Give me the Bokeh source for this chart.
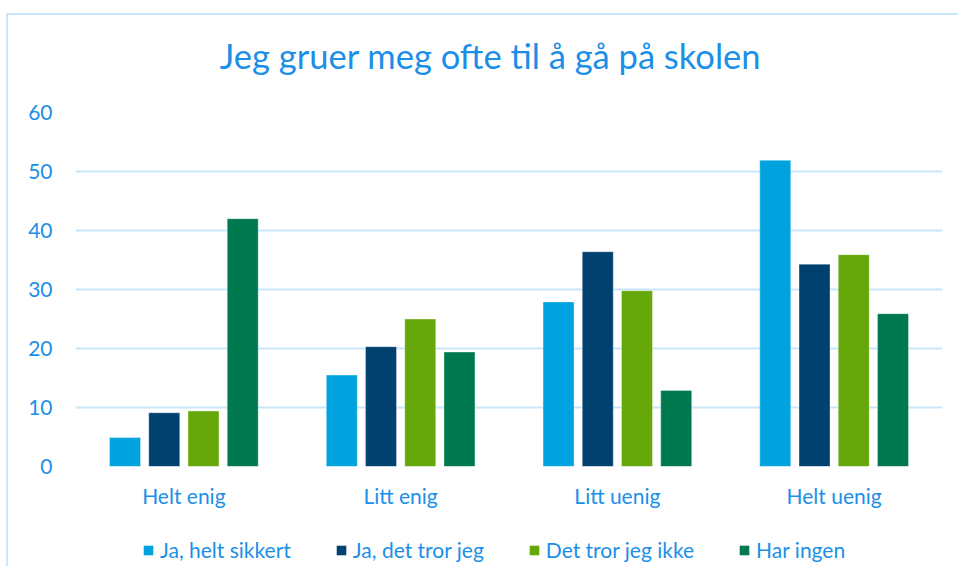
from bokeh.plotting import figure
from bokeh.models import FactorRange, FixedTicker, Legend, LegendItem, Label
from bokeh.layouts import column
from bokeh.transform import dodge
from bokeh.embed import file_html
from bokeh.resources import INLINE

categories = ["Helt enig", "Litt enig", "Litt uenig", "Helt uenig"]
series_names = ["Ja, helt sikkert", "Ja, det tror jeg", "Det tror jeg ikke", "Har ingen"]
ja_helt_sikkert = [4.9, 15.5, 27.9, 51.9]
ja_det_tror_jeg = [9.1, 20.3, 36.4, 34.3]
det_tror_jeg_ikke = [9.4, 25.0, 29.8, 35.9]
har_ingen = [42.0, 19.4, 12.9, 25.9]
y_ticks = [0, 10, 20, 30, 40, 50, 60]
title_text = "Jeg gruer meg ofte til å gå på skolen"

colors = ["#00A3E0", "#004170", "#66A80A", "#007850"]
text_color = "#1B8FE8"
font = "Lato"
keys = ["s0", "s1", "s2", "s3"]

data = dict(cat=categories, s0=ja_helt_sikkert, s1=ja_det_tror_jeg,
            s2=det_tror_jeg_ikke, s3=har_ingen)

# title strip
tf = figure(width=950, height=85, x_range=(0, 867), y_range=(0, 85), output_backend="svg",
            toolbar_location=None, x_axis_type=None, y_axis_type=None,
            min_border=0, outline_line_color=None)
tf.xgrid.grid_line_color = None
tf.ygrid.grid_line_color = None
tf.add_layout(Label(x=415, y=45, text=title_text, text_align="center", text_baseline="alphabetic",
                    text_font=font, text_font_size="34.5px", text_color=text_color))

# main chart
p = figure(x_range=FactorRange(*categories, range_padding=0), y_range=(0, 60),
           width=950, height=416, output_backend="svg", toolbar_location=None,
           min_border_left=67, min_border_right=16, min_border_top=12, min_border_bottom=50)

offsets = [-0.2715, -0.0905, 0.0905, 0.2715]
for i, key in enumerate(keys):
    p.vbar(x=dodge("cat", offsets[i], range=p.x_range), top=key, width=0.143,
           source=data, fill_color=colors[i], line_color="white", line_alpha=0.35, line_width=1)

p.outline_line_color = None
p.xgrid.grid_line_color = None
p.ygrid.grid_line_color = "#C9E6FB"
p.ygrid.grid_line_width = 2
p.yaxis.ticker = FixedTicker(ticks=y_ticks)
for ax in (p.xaxis[0], p.yaxis[0]):
    ax.axis_line_color = None
    ax.major_tick_line_color = None
    ax.minor_tick_line_color = None
    ax.major_label_text_font = font
    ax.major_label_text_font_size = "21px"
    ax.major_label_text_color = text_color
p.yaxis.major_label_standoff = 17
p.xaxis.major_label_standoff = 10

# legend strip below the chart
lf = figure(width=950, height=50, x_range=FactorRange(*categories, range_padding=0),
            y_range=(0, 60), output_backend="svg",
            toolbar_location=None, x_axis_type=None, y_axis_type=None,
            min_border=0, outline_line_color=None)
lf.xgrid.grid_line_color = None
lf.ygrid.grid_line_color = None
items = []
for i, key in enumerate(keys):
    r = lf.vbar(x=dodge("cat", offsets[i], range=lf.x_range), top=key, width=0.143,
                source=data, fill_color=colors[i], line_color=None, visible=False)
    items.append(LegendItem(label=series_names[i], renderers=[r]))
legend = Legend(items=items, orientation="horizontal", location=(67, 4), padding=0, margin=0,
                spacing=44, label_standoff=6, glyph_width=12, glyph_height=12,
                label_text_font=font, label_text_font_size="21px", label_text_color=text_color,
                inactive_fill_alpha=0,
                border_line_color=None, background_fill_alpha=0)
lf.add_layout(legend, "center")

layout = column(tf, p, lf, spacing=0,
                styles={"margin-left": "6px", "margin-top": "13px",
                        "border-left": "2px solid #C9E6FB", "border-top": "2px solid #C9E6FB"})

open("out.html", "w").write(file_html(layout, INLINE))
